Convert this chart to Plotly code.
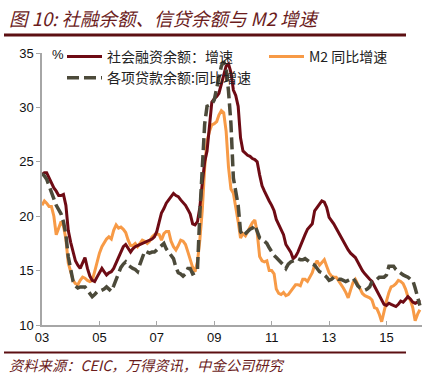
import pandas as pd
import plotly.graph_objects as go

dates = pd.date_range("2003-01-01", periods=159, freq="MS")

tsf_growth = [
    23.8, 24.0, 24.0, 23.5, 23.0, 22.6, 22.3, 21.9, 21.9, 22.0,
    21.0, 18.7, 17.6, 16.6, 15.9, 15.5, 15.2, 15.7, 16.2, 15.2,
    14.5, 14.1, 14.0, 14.4, 14.8, 15.2, 14.9, 14.6, 14.8, 14.9,
    15.2, 15.7, 16.3, 16.8, 17.2, 17.4, 17.0, 16.7, 17.0, 17.2,
    17.3, 17.4, 17.5, 17.6, 17.7, 17.8, 17.9, 18.1, 18.6, 19.5,
    20.3, 20.7, 21.2, 21.5, 21.8, 22.1, 21.9, 21.8, 21.5, 21.3,
    21.0, 20.6, 20.2, 19.3, 19.2, 19.5, 20.8, 23.0, 25.0, 26.0,
    28.0, 30.5, 30.8, 31.0, 31.3, 32.1, 32.8, 33.8, 34.0, 33.2,
    31.6, 31.1, 30.1, 27.2, 26.0, 25.8, 25.6, 25.5, 25.3, 25.2,
    25.0, 23.8, 22.8, 22.3, 21.8, 21.4, 21.0, 20.5, 19.7, 19.2,
    18.8, 18.3, 17.4, 17.0, 16.7, 16.1, 16.3, 16.7, 17.3, 17.7,
    18.3, 18.8, 19.0, 19.3, 20.5, 20.8, 21.1, 21.4, 21.3, 20.8,
    19.9, 19.6, 19.3, 18.9, 18.5, 18.0, 17.6, 17.3, 16.9, 16.6,
    16.4, 16.2, 15.8, 15.3, 15.0, 14.7, 14.4, 14.2, 14.0, 13.6,
    13.1, 12.7, 12.3, 11.9, 11.8, 12.0, 11.9, 11.8, 11.7, 11.9,
    12.2, 12.1, 12.4, 12.6, 12.4, 12.1, 12.0, 12.1, 12.3,
]

m2_growth = [
    21.0, 21.4, 21.2, 20.9, 20.9, 20.0, 18.3, 19.0, 19.5, 19.1,
    17.9, 15.7, 14.8, 14.1, 13.8, 13.7, 14.1, 14.4, 14.3, 14.1,
    14.0, 14.1, 14.9, 15.8, 16.6, 17.2, 17.6, 17.9, 18.1, 17.9,
    18.7, 19.2, 18.9, 19.0, 18.8, 18.5, 17.8, 17.3, 17.3, 17.5,
    17.2, 17.5, 17.8, 17.7, 17.5, 17.7, 18.1, 18.3, 18.4, 18.3,
    17.8, 18.4, 18.6, 18.6, 17.7, 17.2, 16.9, 17.3, 17.8, 17.7,
    17.4, 16.7, 16.0, 15.3, 14.9, 15.8, 17.8, 20.5, 24.5, 26.9,
    27.8, 28.4, 28.5, 28.7, 29.3, 29.7, 29.5, 27.8, 24.5, 22.5,
    22.1, 21.0, 19.5, 18.0, 18.4, 18.2, 18.6, 19.0, 19.4, 19.65,
    18.5, 16.3, 15.9, 15.8, 15.9, 15.0, 15.0, 14.7, 13.3, 12.9,
    12.8, 13.0, 12.7, 12.8, 13.1, 13.5, 13.7, 13.7, 13.6, 14.2,
    14.2, 14.0, 14.4, 14.8, 15.5, 15.9, 15.5, 15.8, 16.0, 15.4,
    14.8, 14.5, 14.4, 14.4, 14.1, 13.8, 13.4, 13.0, 12.5, 13.2,
    13.9, 14.2, 13.7, 13.3, 12.9, 12.7, 12.6, 12.5, 12.3, 11.6,
    11.5, 11.0, 10.3, 11.3, 12.2, 13.0, 13.5, 13.6, 13.8, 14.1,
    14.0, 13.8, 13.3, 12.6, 12.3, 11.6, 10.4, 11.0, 11.4,
]

loan_growth = [
    23.9, 23.7, 23.4, 22.8, 22.0, 21.5, 21.0, 20.6, 20.2, 19.5,
    18.3, 16.3, 15.0, 14.0, 13.6, 13.4, 13.5, 13.5, 13.5, 13.2,
    12.9, 12.6, 12.8, 13.05, 13.1, 13.2, 13.3, 13.5, 13.3, 13.1,
    13.6, 14.2, 14.6, 15.3, 15.6, 15.8, 15.5, 15.3, 15.2, 15.1,
    14.9, 15.6, 16.2, 16.8, 16.7, 16.6, 16.7, 16.7, 16.9, 17.1,
    17.3, 17.5, 17.0, 16.7, 16.4, 16.1, 15.3, 14.8, 14.7, 14.5,
    14.7, 15.2, 15.2, 14.7, 14.8, 15.1, 20.2, 24.5, 28.5, 30.1,
    30.2, 30.3, 30.7, 31.8, 33.0, 33.8, 34.2, 33.6, 31.5, 28.5,
    23.5, 22.4, 21.0, 18.6, 18.2, 18.4, 18.6, 18.8, 18.9, 19.2,
    18.6, 18.0, 17.9, 17.7, 17.5, 17.1, 16.7, 16.4, 16.2, 16.0,
    15.8, 15.5, 15.2, 15.6, 15.8, 15.9, 16.0, 16.1, 16.0, 16.0,
    16.1, 15.9, 15.7, 15.6, 15.5, 15.2, 14.9, 14.8, 14.6, 14.4,
    14.1, 14.2, 14.4, 14.4, 14.2, 14.2, 14.1, 14.0, 14.1, 14.2,
    14.3, 14.0, 13.6, 13.4, 13.3, 13.2, 13.3, 13.5, 14.0, 14.1,
    14.2, 14.4, 14.4, 14.4, 14.6, 15.4, 15.4, 15.4, 15.1, 14.9,
    14.7, 14.6, 14.5, 14.4, 14.2, 14.1, 13.4, 12.6, 11.8,
]

tick_dates = ["2003-01-01", "2005-01-01", "2007-01-01", "2009-01-01",
              "2011-01-01", "2013-01-01", "2015-01-01"]
tick_labels = ["03", "05", "07", "09", "11", "13", "15"]

name_tsf = "社会融资余额：增速"
name_m2 = "M2 同比增速"
name_loan = "各项贷款余额:同比增速"

C_TSF = "#6e0b14"
C_M2 = "#f79a46"
C_LOAN = "#4c4a3a"

fig = go.Figure()
fig.add_trace(go.Scatter(x=dates, y=m2_growth, mode="lines", name=name_m2,
                         line=dict(color=C_M2, width=3), legend="legend2"))
fig.add_trace(go.Scatter(x=dates, y=tsf_growth, mode="lines", name=name_tsf,
                         line=dict(color=C_TSF, width=3), legend="legend",
                         legendrank=1))
fig.add_trace(go.Scatter(x=dates, y=loan_growth, mode="lines", name=name_loan,
                         line=dict(color=C_LOAN, width=3.5, dash="12px,5px"),
                         legend="legend", legendrank=2))

L, R, T, B = 42, 12, 53, 61
W, H = 434, 386
pw, ph = W - L - R, H - T - B

def px_x(px):
    return (px - L) / pw

def px_y(py):
    return (H - B - py) / ph

axis_font = dict(family="Liberation Sans, Arial", size=13, color="#111111")
leg_font = dict(family="Noto Sans CJK SC", size=14, color="#222222")

fig.update_layout(
    width=W, height=H,
    margin=dict(l=L, r=R, t=T, b=B, autoexpand=False),
    paper_bgcolor="white", plot_bgcolor="white",
    showlegend=True,
    legend=dict(x=px_x(62), y=px_y(41), xanchor="left", yanchor="top",
                bgcolor="rgba(0,0,0,0)", font=leg_font, tracegroupgap=0,
                itemwidth=35),
    legend2=dict(x=px_x(264), y=px_y(41), xanchor="left", yanchor="top",
                 bgcolor="rgba(0,0,0,0)", font=leg_font, itemwidth=35),
    xaxis=dict(
        range=["2003-01-01", "2016-03-28"],
        tickvals=tick_dates, ticktext=tick_labels,
        showgrid=False, zeroline=False, automargin=False,
        showline=True, linecolor="#a6a6a6", linewidth=1.5,
        ticks="inside", ticklen=4, tickcolor="#a6a6a6",
        tickfont=axis_font,
    ),
    yaxis=dict(
        range=[10, 35], tickvals=[10, 15, 20, 25, 30, 35],
        showgrid=False, zeroline=False, automargin=False,
        showline=True, linecolor="#a6a6a6", linewidth=1.5,
        ticks="outside", ticklen=4, tickcolor="#a6a6a6",
        tickfont=axis_font,
    ),
)

title_text = "图 10: 社融余额、信贷余额与 M2 增速"
source_text = "资料来源：CEIC，万得资讯，中金公司研究"

fig.add_annotation(text="<i>" + title_text + "</i>", xref="paper", yref="paper",
                   x=px_x(7), y=px_y(18), xanchor="left", yanchor="middle",
                   showarrow=False,
                   font=dict(family="Noto Sans CJK SC, Liberation Sans", size=18.5,
                             color="#6b1c1c"))
fig.add_annotation(text="<i>" + source_text + "</i>", xref="paper", yref="paper",
                   x=px_x(7), y=px_y(364), xanchor="left", yanchor="middle",
                   showarrow=False,
                   font=dict(family="Noto Sans CJK SC, Liberation Sans", size=14.3,
                             color="#6b1c1c"))
fig.add_annotation(text="%", xref="paper", yref="paper",
                   x=px_x(50), y=px_y(55), xanchor="left", yanchor="middle",
                   showarrow=False,
                   font=dict(family="Liberation Sans, Arial", size=13, color="#111111"))

fig.add_shape(type="line", xref="paper", yref="paper",
              x0=px_x(4), x1=px_x(406), y0=px_y(35), y1=px_y(35),
              line=dict(color="#5c0f12", width=3))
fig.add_shape(type="line", xref="paper", yref="paper",
              x0=px_x(4), x1=px_x(406), y0=px_y(352.5), y1=px_y(352.5),
              line=dict(color="#5c0f12", width=2))

fig.write_html("out.html",
               config={"displayModeBar": False},
               post_script="document.body.style.margin='0px';")
